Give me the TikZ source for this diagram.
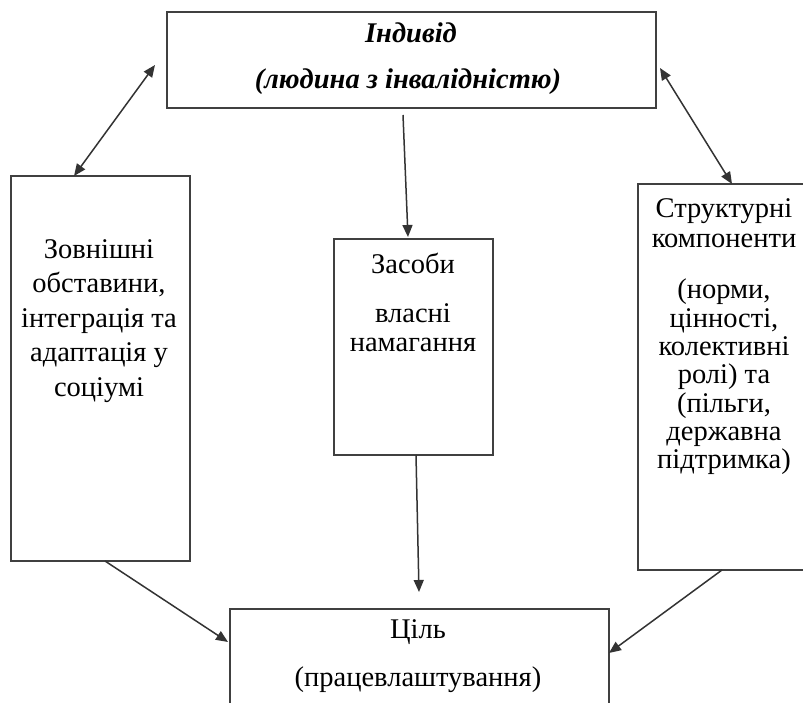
\documentclass[tikz,border=0pt]{standalone}
\usepackage{fontspec}
\setmainfont{Liberation Serif}
\usetikzlibrary{arrows.meta,calc}
\begin{document}
\begin{tikzpicture}[x=1pt,y=-1pt,
  box/.style={draw=black!75,line width=1.7pt,inner sep=0pt,outer sep=0pt},
  txt/.style={inner sep=0pt,outer sep=0pt,align=center,font=\fontsize{28.5}{34.5}\selectfont},
  conn/.style={draw=black!80,line width=1.5pt,-{Triangle[length=12pt,width=10pt]}},
  dconn/.style={draw=black!80,line width=1.5pt,{Triangle[length=12pt,width=10pt]}-{Triangle[length=12pt,width=10pt]}}]
\useasboundingbox (0,0) rectangle (803,703);
\fill[white] (0,0) rectangle (803,703);
\clip (0,0) rectangle (803,703);
% boxes
\node[box,minimum width=489,minimum height=96] (ind) at (411.5,60) {};
\node[box,minimum width=179,minimum height=385] (left) at (100.5,368.5) {};
\node[box,minimum width=172,minimum height=386] (right) at (724,377) {};
\node[box,minimum width=159,minimum height=216] (mid) at (413.5,347) {};
\node[box,minimum width=379,minimum height=121] (goal) at (419.5,669.5) {};
% texts
\node[txt,font=\fontsize{28.5}{34.5}\selectfont\bfseries\itshape] (indA) at (411,33) {Індивід};
\node[txt,font=\fontsize{28.5}{34.5}\selectfont\bfseries\itshape] (indB) at (408,82) {(людина з інвалідністю)};
\node[txt] (leftT) at (99,321) {Зовнішні\\обставини,\\інтеграція та\\адаптація у\\соціумі};
\node[txt] (midA) at (413,263) {Засоби};
\node[txt,font=\fontsize{28.5}{29}\selectfont] (midB) at (413,328) {власні\\намагання};
\node[txt,font=\fontsize{28.5}{30}\selectfont] (rightA) at (724,223) {Структурні\\компоненти};
\node[txt,font=\fontsize{28.5}{28.3}\selectfont] (rightB) at (724,377) {(норми,\\цінності,\\колективні\\ролі) та\\(пільги,\\державна\\підтримка)};
\node[txt] (goalA) at (418,632) {Ціль};
\node[txt] (goalB) at (418,680) {(працевлаштування)};
% connectors
\draw[dconn] ($(ind.west)+(-12,5)$) -- ($(left.north)+(-26.5,0)$);
\draw[dconn] ($(ind.east)+(4,8)$) -- ($(right.north)+(8,0)$);
\draw[conn] ($(ind.south)+(-8.5,7)$) -- ($(mid.north)+(-5.5,-2)$);
\draw[conn] ($(mid.south)+(2.5,0)$) -- ($(goal.north)+(-0.5,-17)$);
\draw[conn] ($(left.south)+(4.5,0)$) -- ($(goal.north west)+(-2,33)$);
\draw[conn] ($(right.south)+(-2,0)$) -- ($(goal.north east)+(0,44)$);
\end{tikzpicture}
\end{document}
